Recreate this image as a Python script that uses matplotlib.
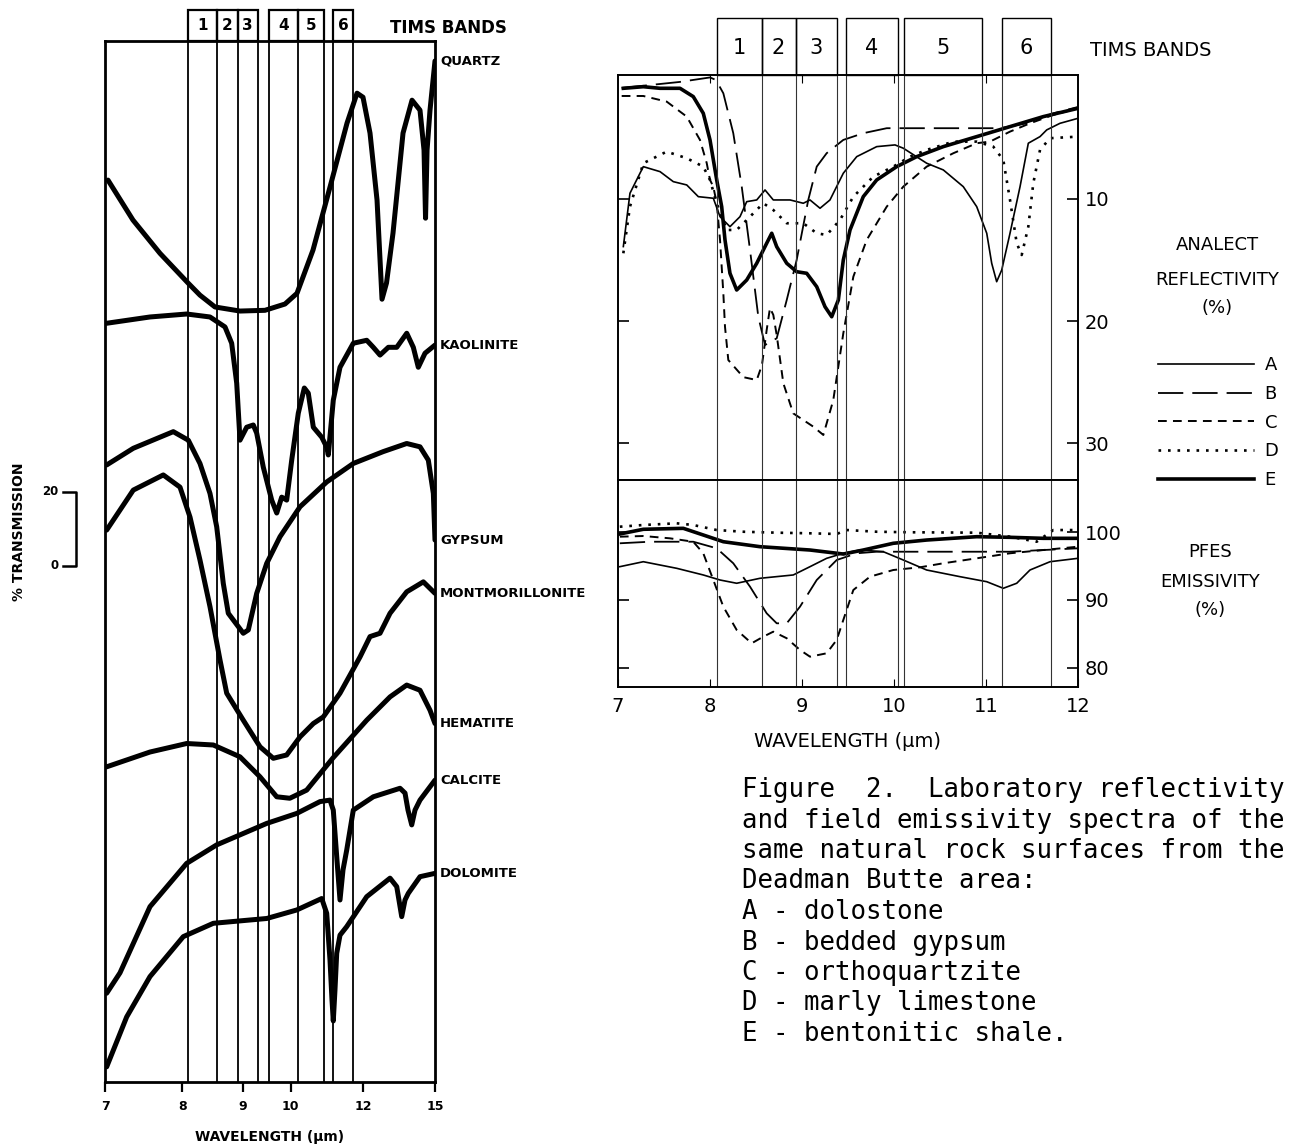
import matplotlib
matplotlib.use('Agg')
import matplotlib.pyplot as plt
from matplotlib.patches import Rectangle
from matplotlib.transforms import blended_transform_factory as blend

# ------------------------------------------------------------
# Left panel: lab transmission spectra, stacked (% transmission)
# x in wavenumber (cm-1) so the axis is linear in 1/lambda
# ------------------------------------------------------------
quartz_wn = [1421.7, 1364, 1301.6, 1237, 1209.3, 1174.6, 1116.9, 1059.2, 1013, 985.3,
             948.3, 909.1, 869.8, 846.7, 832.9, 816.7, 800.5, 789, 778.6, 763.6,
             740.5, 719.7, 701.3, 692, 688.5, 685, 678.2, 666.7]
quartz_t = [243.8, 233, 224, 216, 212.7, 209.5, 208.4, 208.6, 210.3, 213.2,
            224.9, 241.9, 259.2, 267.3, 266.2, 256.5, 238.4, 211.6, 216, 229.5,
            256.5, 265.4, 262.7, 251.9, 233.5, 251.9, 262.7, 276]

kaol_wn = [1424.7, 1324.7, 1240, 1186.2, 1151.5, 1136.1, 1124.5, 1116.9, 1101.4, 1086.2,
           1078.3, 1063.1, 1043.7, 1032.1, 1020.6, 1009.1, 997.5, 982.3, 968.4, 959.2,
           947.6, 928.2, 916.7, 913, 901.5, 886, 855.3, 824.3, 809.1, 793.6,
           774.4, 755, 731.9, 716.7, 705.2, 689.7, 666.7]
kaol_t = [205.1, 206.8, 207.6, 206.8, 204.1, 199.7, 188.9, 173.5, 177, 177.6,
          175.4, 166.2, 157.3, 153.8, 158.1, 157.3, 168.1, 180.8, 187.6, 186.2,
          177, 174.3, 171.6, 169.5, 184.3, 193.2, 199.7, 200.5, 198.6, 196.5,
          198.6, 198.6, 202.4, 198.6, 193.2, 197, 199.2]

gyps_wn = [1424.7, 1363.3, 1270.9, 1236.3, 1209.3, 1186.2, 1170.7, 1155.5, 1143.9, 1109.3,
           1097.7, 1078.3, 1055.2, 1024.5, 978.3, 916.7, 855.3, 786.3, 732, 701.3,
           682.1, 670.5, 666.7]
gyps_t = [166.8, 171.3, 175.8, 173.5, 167.2, 159.1, 150.1, 134.8, 126.7, 121.3,
          122.2, 132.1, 140.2, 147.4, 155.5, 162.2, 167.2, 170.4, 172.6, 171.7,
          168.1, 159.1, 146.5]

mont_wn = [1424.7, 1363.3, 1294, 1255.4, 1232.3, 1209.3, 1186.2, 1163.1, 1147.6, 1109.3,
           1070.6, 1040, 1009.1, 978.3, 947.6, 924.5, 886, 839.8, 816.7, 793.6,
           770.5, 732, 693.6, 666.7]
mont_t = [149.2, 160, 164.1, 160.8, 152.7, 141.1, 128.5, 114.1, 105.1, 97.8,
          90.6, 87.5, 88.4, 93.3, 96.9, 98.7, 105.1, 114.9, 120.4, 121.3,
          126.7, 132.5, 135.2, 132.1]

hema_wn = [1424.7, 1324.7, 1240, 1178.5, 1116.9, 1070.7, 1032.1, 1001.9, 962.9, 901.5,
           824.3, 770.5, 732, 701.3, 678.2, 666.7]
hema_t = [85.2, 89.2, 91.5, 91.1, 87.9, 82.5, 77.1, 76.7, 78.9, 87.7,
          97.8, 104.1, 107.3, 105.9, 100.5, 96.9]

calc_wn = [1424.7, 1394, 1324.7, 1240, 1170.7, 1055.2, 985.9, 932.1, 909.1, 901.5,
           893, 886, 879.1, 870.5, 855.3, 809.1, 747.4, 735.9, 729, 720.4,
           712.8, 701.3, 666.7]
calc_t = [24, 29.5, 47.4, 59.1, 64.1, 69.9, 72.6, 75.8, 76.2, 73.5,
          60, 49.2, 57.3, 62.7, 73.5, 77.1, 79.4, 78.1, 73.5, 69.5,
          73.5, 76.2, 81.6]

dolo_wn = [1424.7, 1378.5, 1324.7, 1247.8, 1178.5, 1055.2, 985.9, 928.2, 916.7, 909.1,
           904.5, 901.5, 897.6, 893.6, 886, 870.5, 824.3, 770.5, 755, 743.5,
           735.9, 728.3, 701.3, 666.7]
dolo_t = [4.1, 17.6, 28.5, 39.3, 42.9, 44.2, 46.5, 49.6, 45.6, 33,
          22.2, 16.5, 24.9, 34.8, 39.7, 42, 50.1, 55.1, 52.8, 44.7,
          49.2, 51, 55.5, 56.4]

minerals = ['QUARTZ', 'KAOLINITE', 'GYPSUM', 'MONTMORILLONITE', 'HEMATITE', 'CALCITE', 'DOLOMITE']
mineral_wn = [quartz_wn, kaol_wn, gyps_wn, mont_wn, hema_wn, calc_wn, dolo_wn]
mineral_t = [quartz_t, kaol_t, gyps_t, mont_t, hema_t, calc_t, dolo_t]

left_ticks_um = [7, 8, 9, 10, 12, 15]
left_bands_um = [(8.08, 8.54), (8.54, 8.91), (8.91, 9.29), (9.52, 10.17), (10.17, 10.83), (11.09, 11.68)]

# ------------------------------------------------------------
# Right panel: Analect reflectivity (%) and PFES emissivity (%)
# ------------------------------------------------------------
refl_A_x = [7.058, 7.13, 7.275, 7.457, 7.601, 7.747, 7.873, 8.036, 8.109, 8.217,
            8.326, 8.399, 8.508, 8.598, 8.688, 8.87, 9.014, 9.087, 9.196, 9.304,
            9.449, 9.595, 9.812, 10.011, 10.101, 10.355, 10.536, 10.753, 10.899, 11.008,
            11.062, 11.116, 11.171, 11.261, 11.37, 11.46, 11.587, 11.66, 11.804, 12.0]
refl_A_y = [13.9, 9.53, 7.35, 7.76, 8.58, 8.85, 9.81, 9.94, 11.45, 12.27,
            11.45, 10.22, 10.08, 9.26, 10.08, 10.08, 10.35, 10.08, 10.76, 10.08,
            7.89, 6.53, 5.71, 5.57, 5.84, 7.07, 7.62, 8.99, 10.63, 12.81,
            15.27, 16.78, 15.82, 12.81, 8.99, 5.43, 4.89, 4.34, 3.8, 3.39]

refl_B_x = [7.04, 7.35, 7.67, 8.0, 8.065, 8.145, 8.253, 8.345, 8.435, 8.525,
            8.598, 8.652, 8.725, 8.834, 8.942, 9.068, 9.16, 9.268, 9.449, 9.666,
            9.921, 10.174, 10.536, 11.152, 11.442, 11.732, 12.0]
refl_B_y = [0.9, 0.66, 0.41, 0.04, 0.25, 1.34, 4.61, 8.99, 14.18, 19.65,
            21.97, 21.72, 21.42, 18.28, 15.0, 10.08, 7.35, 6.25, 5.16, 4.61,
            4.2, 4.2, 4.2, 4.2, 3.8, 2.98, 2.46]

refl_C_x = [7.04, 7.275, 7.529, 7.747, 7.891, 7.964, 8.0, 8.036, 8.073, 8.109,
            8.145, 8.163, 8.199, 8.362, 8.508, 8.565, 8.616, 8.652, 8.688, 8.725,
            8.797, 8.905, 9.123, 9.232, 9.34, 9.449, 9.558, 9.703, 9.921, 10.101,
            10.355, 10.645, 10.899, 11.043, 11.261, 11.478, 11.732, 12.0]
refl_C_y = [1.56, 1.56, 2.02, 3.25, 5.16, 7.05, 8.44, 8.99, 10.35, 13.36,
            17.73, 20.47, 23.2, 24.6, 24.84, 23.6, 20.74, 18.93, 19.5, 21.15,
            25.1, 27.57, 28.66, 29.34, 26.48, 21.01, 16.37, 13.36, 10.63, 8.99,
            7.35, 6.25, 5.43, 5.3, 4.48, 3.8, 3.11, 2.57]

refl_D_x = [7.058, 7.13, 7.275, 7.529, 7.747, 7.927, 8.0, 8.073, 8.182, 8.29,
            8.435, 8.579, 8.688, 8.834, 9.014, 9.16, 9.268, 9.413, 9.558, 9.775,
            9.992, 10.174, 10.355, 10.645, 10.899, 11.079, 11.188, 11.261, 11.334, 11.388,
            11.46, 11.514, 11.587, 11.696, 12.0]
refl_D_y = [14.45, 10.63, 7.07, 6.12, 6.66, 7.35, 8.44, 10.35, 12.54, 12.54,
            11.45, 10.35, 10.9, 11.99, 11.99, 12.81, 12.95, 11.72, 9.81, 8.17,
            7.35, 6.53, 5.98, 5.3, 5.3, 5.71, 6.8, 10.08, 13.63, 14.59,
            12.27, 8.71, 5.98, 5.02, 4.89]

refl_E_x = [7.058, 7.275, 7.457, 7.674, 7.818, 7.927, 8.0, 8.073, 8.127, 8.163,
            8.217, 8.29, 8.399, 8.508, 8.616, 8.671, 8.725, 8.834, 8.942, 9.051,
            9.16, 9.25, 9.323, 9.395, 9.449, 9.522, 9.666, 9.812, 10.029, 10.247,
            10.536, 10.899, 11.261, 11.623, 12.0]
refl_E_y = [0.93, 0.8, 0.93, 0.93, 1.61, 2.98, 5.16, 8.44, 10.63, 13.36,
            16.09, 17.46, 16.64, 15.27, 13.63, 12.81, 13.91, 15.27, 15.96, 16.09,
            17.19, 18.83, 19.65, 18.28, 15.0, 12.54, 9.81, 8.44, 7.35, 6.53,
            5.71, 4.89, 4.07, 3.25, 2.57]

emis_A_x = [7.02, 7.275, 7.638, 7.927, 8.109, 8.29, 8.543, 8.905, 9.087, 9.268,
            9.449, 9.63, 9.884, 10.101, 10.355, 10.717, 11.008, 11.188, 11.334, 11.478,
            11.696, 12.0]
emis_A_y = [94.9, 95.63, 94.66, 93.68, 92.94, 92.46, 93.19, 93.68, 94.9, 96.13,
            96.87, 97.35, 97.1, 95.88, 94.41, 93.43, 92.69, 91.72, 92.46, 94.41,
            95.63, 96.13]

emis_B_x = [7.02, 7.348, 7.818, 8.073, 8.253, 8.435, 8.616, 8.725, 8.834, 8.978,
            9.16, 9.377, 9.595, 9.812, 10.536, 11.261, 11.623, 12.0]
emis_B_y = [98.34, 98.57, 98.57, 97.6, 95.4, 91.96, 88.04, 86.57, 86.57, 89.01,
            92.94, 95.88, 96.87, 97.1, 97.1, 97.1, 97.35, 97.6]

emis_C_x = [7.02, 7.275, 7.565, 7.818, 7.927, 8.036, 8.145, 8.29, 8.453, 8.579,
            8.688, 8.834, 8.978, 9.087, 9.268, 9.377, 9.449, 9.558, 9.739, 9.992,
            10.283, 10.536, 10.899, 11.261, 11.623, 12.0]
emis_C_y = [99.31, 99.41, 99.07, 98.57, 96.87, 92.94, 89.01, 85.59, 83.63, 84.6,
            85.34, 84.37, 82.65, 81.66, 82.16, 84.12, 87.06, 91.47, 93.43, 94.41,
            94.81, 95.4, 96.13, 96.87, 97.35, 97.84]

emis_D_x = [7.02, 7.275, 7.638, 7.818, 8.073, 8.362, 8.725, 9.087, 9.377, 9.486,
            9.812, 10.174, 10.899, 11.261, 11.551, 11.732, 12.0]
emis_D_y = [100.78, 101.03, 101.28, 101.03, 100.29, 100.04, 99.9, 99.81, 99.71, 100.29,
            100.04, 99.96, 99.9, 99.31, 98.57, 100.29, 100.29]

emis_E_x = [7.02, 7.275, 7.71, 7.927, 8.145, 8.543, 9.087, 9.449, 9.666, 9.992,
            10.355, 10.899, 11.261, 11.623, 12.0]
emis_E_y = [99.71, 100.4, 100.54, 99.56, 98.57, 97.84, 97.35, 96.76, 97.35, 98.34,
            98.82, 99.31, 99.22, 99.07, 99.07]

samples = ['A', 'B', 'C', 'D', 'E']
refl_x = [refl_A_x, refl_B_x, refl_C_x, refl_D_x, refl_E_x]
refl_y = [refl_A_y, refl_B_y, refl_C_y, refl_D_y, refl_E_y]
emis_x = [emis_A_x, emis_B_x, emis_C_x, emis_D_x, emis_E_x]
emis_y = [emis_A_y, emis_B_y, emis_C_y, emis_D_y, emis_E_y]

right_bands_um = [(8.08, 8.56), (8.56, 8.93), (8.93, 9.38), (9.48, 10.04), (10.11, 10.96), (11.17, 11.71)]

caption = [
    "Figure  2.  Laboratory reflectivity",
    "and field emissivity spectra of the",
    "same natural rock surfaces from the",
    "Deadman Butte area:",
    "A - dolostone",
    "B - bedded gypsum",
    "C - orthoquartzite",
    "D - marly limestone",
    "E - bentonitic shale.",
]

# line style per sample (A thin solid, B long dash, C short dash, D dotted, E thick solid)
styles = {
    'A': dict(ls='-', lw=1.2),
    'B': dict(ls=(0, (14, 5)), lw=1.3),
    'C': dict(ls=(0, (4.5, 3.2)), lw=1.4),
    'D': dict(ls=(0, (1, 2.6)), lw=1.9),
    'E': dict(ls='-', lw=2.6),
}

W, H = 1305, 1148
fig = plt.figure(figsize=(W / 100, H / 100), dpi=100)
fig.patch.set_facecolor('white')


def frac(x0, y0, x1, y1):
    """pixel box -> figure rect"""
    return [x0 / W, 1 - y1 / H, (x1 - x0) / W, (y1 - y0) / H]


# ── left panel ──────────────────────────────────────────────
axL = fig.add_axes(frac(105, 41, 435, 1082))
axL.set_xlim(1e4 / 7, 1e4 / 15)
axL.set_ylim(0, 281.4)

for wn, t in zip(mineral_wn, mineral_t):
    axL.plot(wn, t, color='black', lw=3.6, solid_joinstyle='round', solid_capstyle='round')

edges = sorted({e for band in left_bands_um for e in band})
for e in edges:
    axL.axvline(1e4 / e, color='black', lw=1.3)

for s in axL.spines.values():
    s.set_linewidth(2)
axL.set_yticks([])
axL.set_xticks([1e4 / v for v in left_ticks_um])
axL.set_xticklabels([str(v) for v in left_ticks_um], fontweight='bold', fontsize=9)
axL.tick_params(axis='x', direction='out', length=7, width=1.6, pad=6)
axL.set_xlabel('WAVELENGTH (\u03bcm)', fontweight='bold', fontsize=10, labelpad=12)

trL = blend(axL.transData, axL.transAxes)
for i, (a, b) in enumerate(left_bands_um):
    axL.add_patch(Rectangle((1e4 / a, 1.0), 1e4 / b - 1e4 / a, 0.0298, transform=trL,
                            fill=False, lw=1.6, clip_on=False))
    axL.text((1e4 / a + 1e4 / b) / 2, 1.0145, str(i + 1), transform=trL,
             ha='center', va='center', fontsize=11, fontweight='bold')
fig.text(390 / W, 1 - 28 / H, 'TIMS BANDS', fontsize=12, fontweight='bold', va='center')

trY = blend(axL.transAxes, axL.transData)
for name, t in zip(minerals, mineral_t):
    axL.text(1.015, t[-1], name, transform=trY, fontsize=9.5, fontweight='bold', va='center')

# 20 % transmission scale bar
scale_base = 139.5
axL.plot([-0.127, -0.088, -0.088, -0.127], [scale_base + 20, scale_base + 20, scale_base, scale_base],
         transform=trY, clip_on=False, color='black', lw=1.8)
axL.text(-0.142, scale_base + 20, '20', transform=trY, ha='right', va='center', fontsize=8.5, fontweight='bold')
axL.text(-0.142, scale_base, '0', transform=trY, ha='right', va='center', fontsize=8.5, fontweight='bold')
fig.text(19 / W, 1 - 532 / H, '% TRANSMISSION', rotation=90, ha='center', va='center',
         fontsize=10, fontweight='bold')

# ── right panel ─────────────────────────────────────────────
axR = fig.add_axes(frac(618, 75, 1078, 480))
axE = fig.add_axes(frac(618, 480, 1078, 687))

handles = []
for k, xs, ys in zip(samples, refl_x, refl_y):
    ln, = axR.plot(xs, ys, color='black', **styles[k])
    handles.append(ln)
for k, xs, ys in zip(samples, emis_x, emis_y):
    axE.plot(xs, ys, color='black', **styles[k])

r_edges = sorted({e for band in right_bands_um for e in band})
for ax in (axR, axE):
    ax.set_xlim(7, 12)
    for e in r_edges:
        ax.axvline(e, color='0.2', lw=0.8)
    for s in ax.spines.values():
        s.set_linewidth(1.4)

axR.set_ylim(33.03, -0.16)
axE.set_ylim(77.2, 107.65)

axR.set_yticks([10, 20, 30])
axE.set_yticks([80, 90, 100])
for ax in (axR, axE):
    ax.tick_params(axis='y', direction='in', left=True, right=True, labelleft=False,
                   labelright=True, length=8, width=1.2, labelsize=14, pad=5)
axR.set_xticks([8, 9, 10, 11])
axR.tick_params(axis='x', direction='in', top=True, bottom=False, labelbottom=False, length=6)
axE.set_xticks([7, 8, 9, 10, 11, 12])
axE.tick_params(axis='x', direction='in', length=6, labelsize=14, pad=7)
axE.set_xlabel('WAVELENGTH (\u03bcm)', fontsize=14, labelpad=12)

trR = blend(axR.transData, axR.transAxes)
for i, (a, b) in enumerate(right_bands_um):
    axR.add_patch(Rectangle((a, 1.0), b - a, 0.1407, transform=trR, fill=False,
                            lw=1.0, clip_on=False))
    axR.text((a + b) / 2, 1.067, str(i + 1), transform=trR, ha='center', va='center', fontsize=15)
fig.text(1090 / W, 1 - 50 / H, 'TIMS BANDS', fontsize=14, va='center')

for txt, yy in [('ANALECT', 245), ('REFLECTIVITY', 280), ('(%)', 308)]:
    fig.text(1217 / W, 1 - yy / H, txt, fontsize=13, ha='center', va='center')
for txt, yy in [('PFES', 552), ('EMISSIVITY', 582), ('(%)', 610)]:
    fig.text(1210 / W, 1 - yy / H, txt, fontsize=13, ha='center', va='center')

axR.legend(handles, samples, loc='upper left', bbox_to_anchor=(1158 / W, 1 - 356 / H),
           bbox_transform=fig.transFigure, frameon=False, fontsize=13, handlelength=5.3,
           handletextpad=0.6, labelspacing=0.6, borderpad=0, borderaxespad=0)

# caption
for i, line in enumerate(caption):
    fig.text(742 / W, 1 - (790 + 30.5 * i) / H, line, family='DejaVu Sans Mono',
             fontsize=18.5, va='center')

plt.savefig('out.png', dpi=100)
